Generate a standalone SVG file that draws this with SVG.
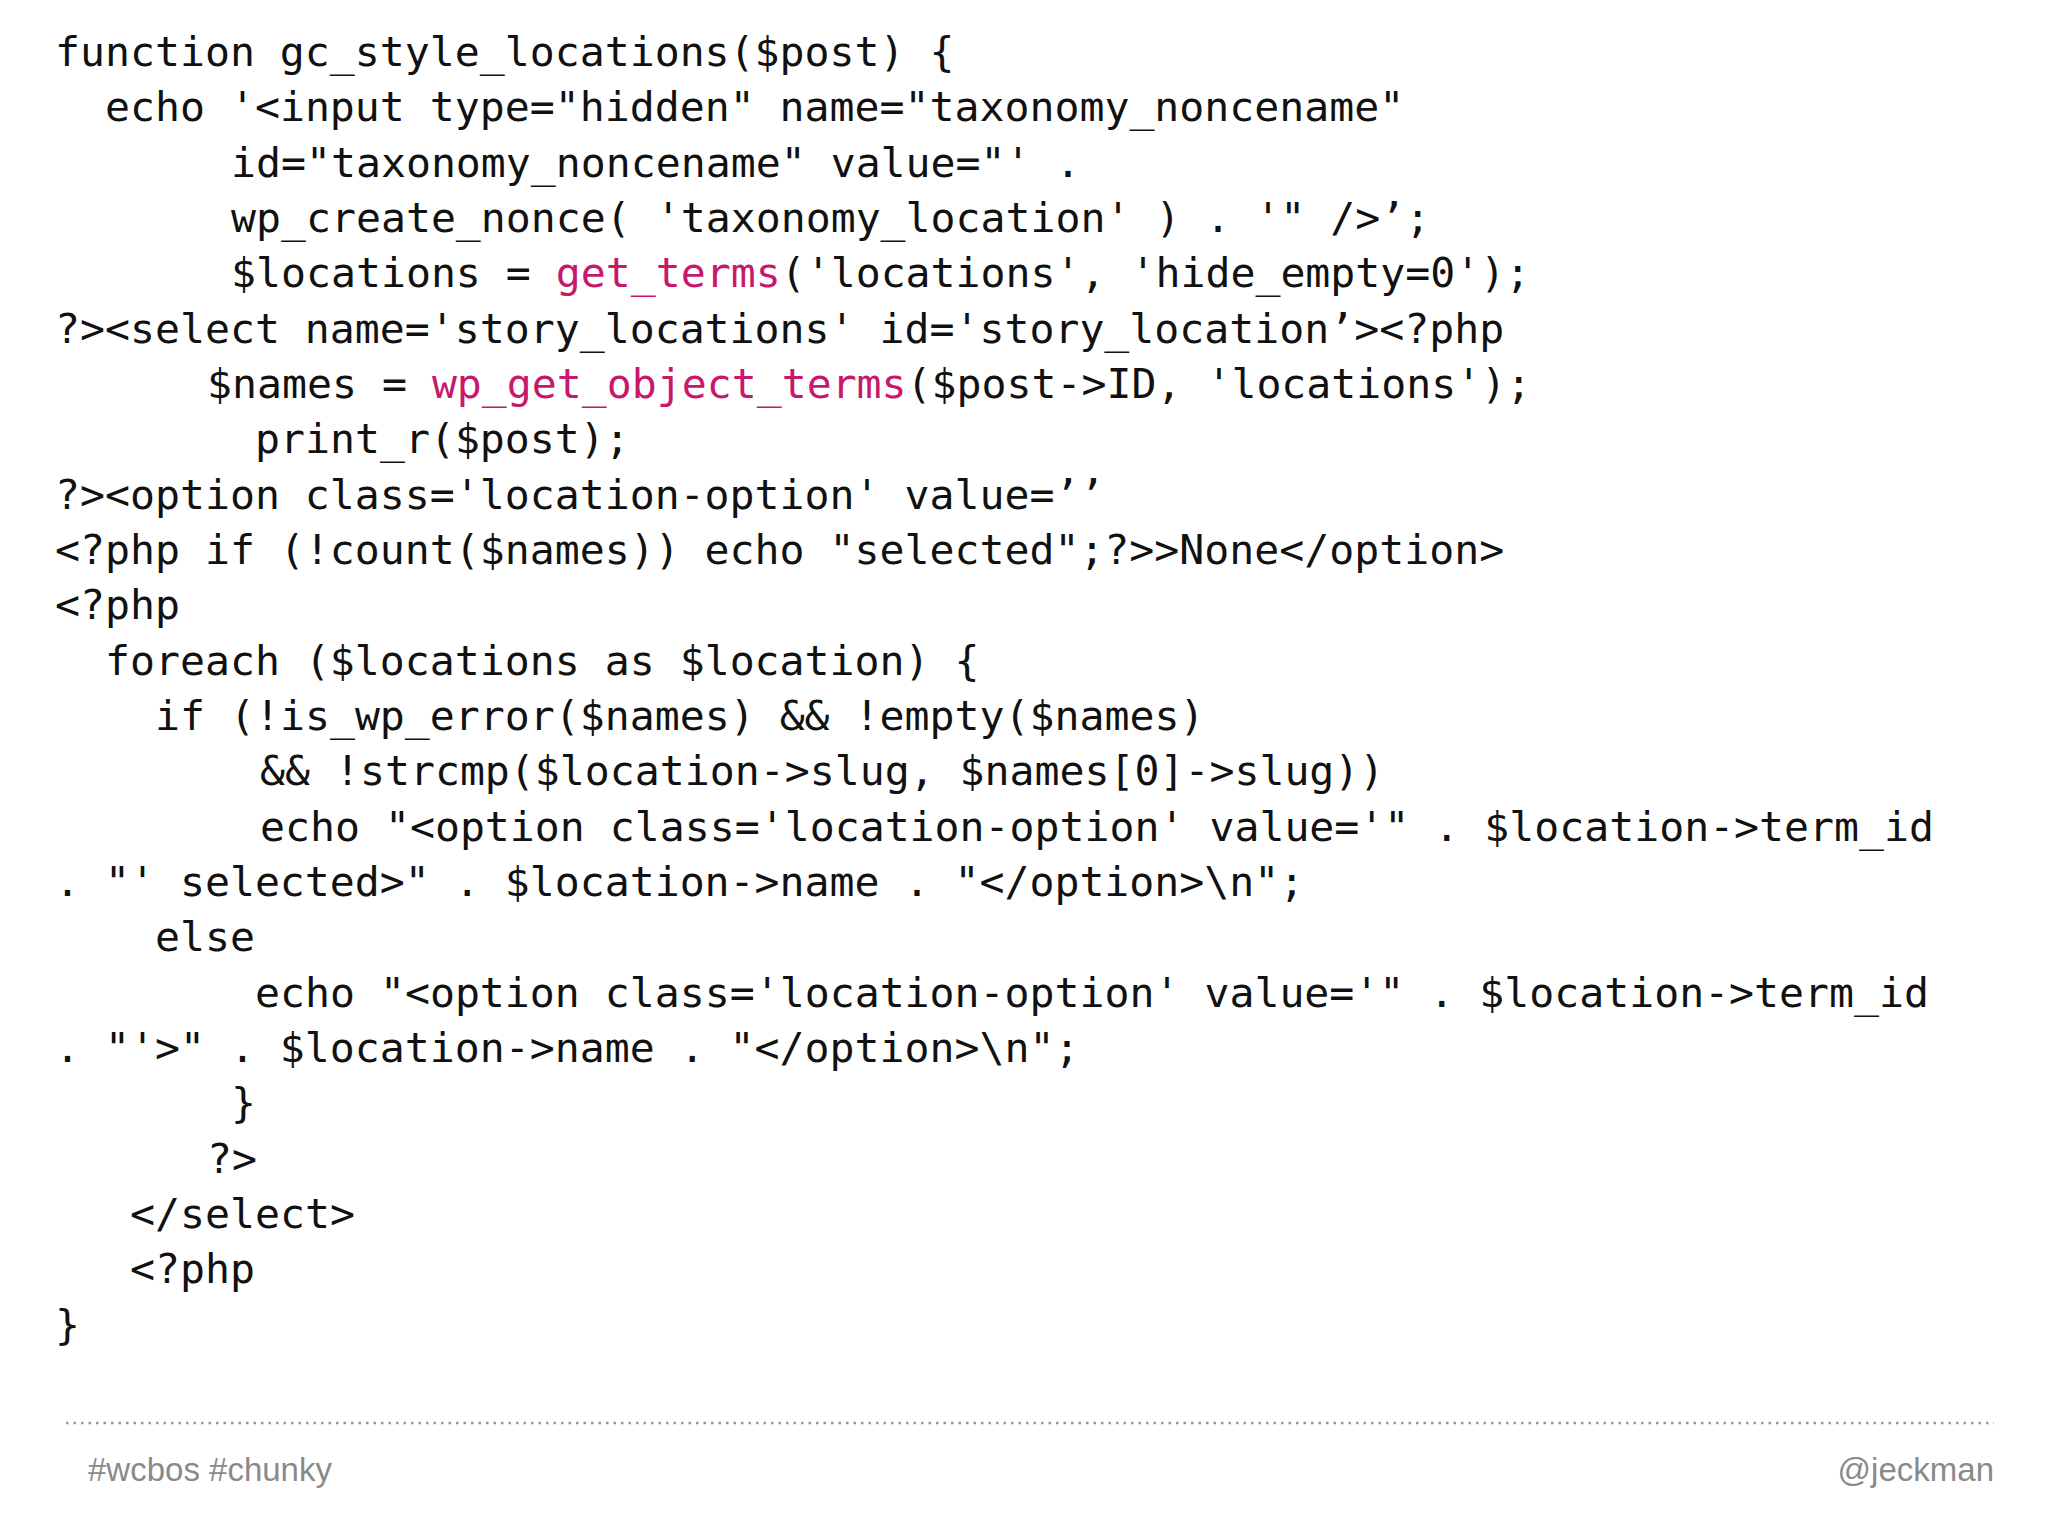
<svg xmlns="http://www.w3.org/2000/svg" width="2048" height="1536" viewBox="0 0 2048 1536">
<style>
.c{font-family:"DejaVu Sans Mono","Liberation Mono",monospace;font-size:41.5px;fill:#111;white-space:pre}
.p{fill:#c8186c}
.f{font-family:"Liberation Sans",Arial,sans-serif;font-size:33px;fill:#8a8a8a}
</style>
<rect width="2048" height="1536" fill="#fff"/>
<g id="code">
<text class="c" x="55" y="66">function gc_style_locations($post) {</text>
<text class="c" x="105" y="121">echo '&lt;input type="hidden" name="taxonomy_noncename"</text>
<text class="c" x="231" y="177">id="taxonomy_noncename" value="' .</text>
<text class="c" x="231" y="232">wp_create_nonce( 'taxonomy_location' ) . '" /&gt;’;</text>
<text class="c" x="231" y="287">$locations = <tspan class="p">get_terms</tspan>('locations', 'hide_empty=0');</text>
<text class="c" x="55" y="343">?&gt;&lt;select name='story_locations' id='story_location’&gt;&lt;?php</text>
<text class="c" x="207" y="398">$names = <tspan class="p">wp_get_object_terms</tspan>($post-&gt;ID, 'locations');</text>
<text class="c" x="255" y="453">print_r($post);</text>
<text class="c" x="55" y="509">?&gt;&lt;option class='location-option' value=’’</text>
<text class="c" x="55" y="564">&lt;?php if (!count($names)) echo "selected";?&gt;&gt;None&lt;/option&gt;</text>
<text class="c" x="55" y="619">&lt;?php</text>
<text class="c" x="105" y="675">foreach ($locations as $location) {</text>
<text class="c" x="155" y="730">if (!is_wp_error($names) &amp;&amp; !empty($names)</text>
<text class="c" x="260" y="785">&amp;&amp; !strcmp($location-&gt;slug, $names[0]-&gt;slug))</text>
<text class="c" x="260" y="841">echo "&lt;option class='location-option' value='" . $location-&gt;term_id</text>
<text class="c" x="55" y="896">. "' selected&gt;" . $location-&gt;name . "&lt;/option&gt;\n";</text>
<text class="c" x="155" y="951">else</text>
<text class="c" x="255" y="1007">echo "&lt;option class='location-option' value='" . $location-&gt;term_id</text>
<text class="c" x="55" y="1062">. "'&gt;" . $location-&gt;name . "&lt;/option&gt;\n";</text>
<text class="c" x="231" y="1117">}</text>
<text class="c" x="207" y="1173">?&gt;</text>
<text class="c" x="130" y="1228">&lt;/select&gt;</text>
<text class="c" x="130" y="1283">&lt;?php</text>
<text class="c" x="55" y="1339">}</text>
</g>
<g id="footer">
<line x1="66" y1="1423" x2="1994" y2="1423" stroke="#999" stroke-width="2.5" stroke-dasharray="2.5 5"/>
<text class="f" x="88" y="1481">#wcbos #chunky</text>
<text class="f" x="1994" y="1481" text-anchor="end">@jeckman</text>
</g>
</svg>
